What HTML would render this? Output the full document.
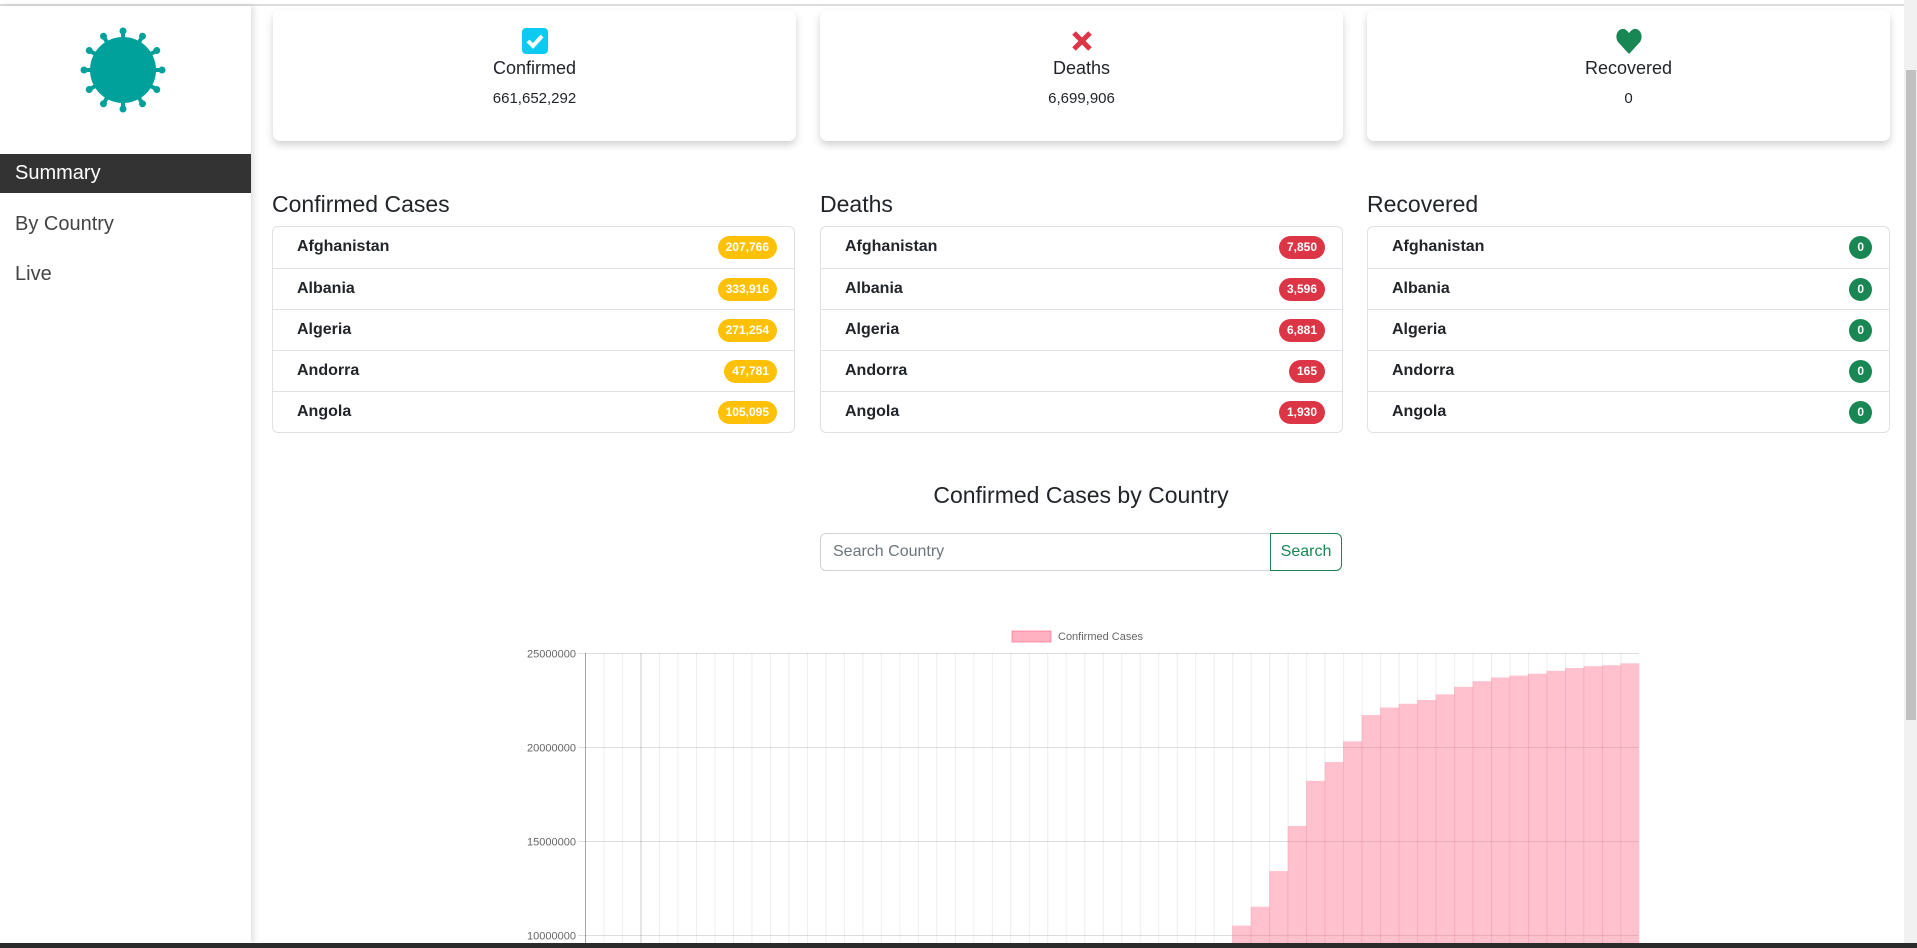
<!DOCTYPE html>
<html><head><meta charset="utf-8">
<style>
*{box-sizing:border-box;margin:0;padding:0}
html{width:1917px;height:948px;overflow:hidden}
body{width:1917px;height:948px;overflow:hidden;background:#fff;font-family:"Liberation Sans",sans-serif;color:#212529;position:relative}
.topline{position:absolute;left:0;top:4px;width:1904px;height:2px;background:#ddd}
.sidebar{position:absolute;left:0;top:6px;width:251px;height:937px;background:#fff;box-shadow:3px 0 6px rgba(0,0,0,.12)}
.nav{position:absolute;left:0;width:251px;height:39px;font-size:20px;padding-left:15px;line-height:39px;color:#444}
.nav.active{background:#333;color:#fff}
.card{position:absolute;top:10px;width:523px;height:131px;background:#fff;border-radius:7px;box-shadow:0 4px 8px rgba(0,0,0,.18);text-align:center}
.card .ic{position:absolute;left:248px;top:17px;width:28px;height:28px}
.card .lbl{position:absolute;left:0;right:0;top:48px;font-size:18px}
.card .num{position:absolute;left:0;right:0;top:80px;font-size:15px}
.sect{position:absolute;top:191px;font-size:23px;font-weight:500}
.list{position:absolute;top:226px;width:523px;border:1px solid #dee2e6;border-radius:6px}
.row{height:41px;border-top:1px solid #dee2e6;position:relative;font-weight:bold;font-size:16px;line-height:40px;padding-left:24px}
.row:first-child{border-top:none}
.badge{position:absolute;right:17px;top:9px;height:23px;line-height:23px;border-radius:12px;padding:0 8px;color:#fff;font-size:12px;font-weight:bold}
.y{background:#ffc107}.r{background:#dc3545}.g{background:#198754}
.title{position:absolute;left:820px;width:522px;top:482px;text-align:center;font-size:23px;font-weight:500}
.search{position:absolute;left:820px;top:533px;width:451px;height:38px;border:1px solid #ced4da;border-radius:6px 0 0 6px;font-size:16px;color:#6c757d;padding:9px 12px}
.btn{position:absolute;left:1270px;top:533px;width:72px;height:38px;border:1px solid #198754;border-radius:0 6px 6px 0;color:#198754;font-size:16px;text-align:center;line-height:36px}
.scroll{position:absolute;left:1904px;top:0;width:13px;height:943px;background:#f1f1f1}
.thumb{position:absolute;left:1906px;top:70px;width:10px;height:650px;background:#c1c1c1}
.taskbar{position:absolute;left:0;top:943px;width:1917px;height:5px;background:#2b2b2b}
</style></head><body>
<div class="topline"></div>
<div class="sidebar">
<svg style="position:absolute;left:80px;top:21px" width="86" height="86" viewBox="-43 -43 86 86">
<g fill="#00a19a"><circle r="33"/>
<g id="sp"><rect x="-2" y="-39" width="4" height="8"/><circle cy="-39" r="3.5"/></g>
<use href="#sp" transform="rotate(30)"/><use href="#sp" transform="rotate(60)"/><use href="#sp" transform="rotate(90)"/><use href="#sp" transform="rotate(120)"/><use href="#sp" transform="rotate(150)"/><use href="#sp" transform="rotate(180)"/><use href="#sp" transform="rotate(210)"/><use href="#sp" transform="rotate(240)"/><use href="#sp" transform="rotate(270)"/><use href="#sp" transform="rotate(300)"/><use href="#sp" transform="rotate(330)"/></g></svg>
<div class="nav active" style="top:148px">Summary</div>
<div class="nav" style="top:199px">By Country</div>
<div class="nav" style="top:249px">Live</div>
</div>

<div class="card" style="left:273px">
<svg class="ic" viewBox="0 0 28 28"><rect x="1" y="1" width="26" height="26" rx="4" fill="#0dcaf0"/><path d="M7 14l5 5 9-10" stroke="#fff" stroke-width="4" fill="none"/></svg>
<div class="lbl">Confirmed</div>
<div class="num">661,652,292</div></div>
<div class="card" style="left:820px">
<svg class="ic" viewBox="0 0 28 28"><path d="M6 6l16 16M22 6L6 22" stroke="#dc3545" stroke-width="5"/></svg>
<div class="lbl">Deaths</div>
<div class="num">6,699,906</div></div>
<div class="card" style="left:1367px">
<svg class="ic" viewBox="0 0 28 28"><path d="M14 27L3 15C-1 9 3 1 9 2c3 1 4 3 5 4 1-1 2-3 5-4 6-1 10 7 6 13z" fill="#198754"/></svg>
<div class="lbl">Recovered</div>
<div class="num">0</div></div>

<div class="sect" style="left:272px">Confirmed Cases</div>
<div class="sect" style="left:820px">Deaths</div>
<div class="sect" style="left:1367px">Recovered</div>

<div class="list" style="left:272px">
<div class="row">Afghanistan<span class="badge y">207,766</span></div>
<div class="row">Albania<span class="badge y">333,916</span></div>
<div class="row">Algeria<span class="badge y">271,254</span></div>
<div class="row">Andorra<span class="badge y">47,781</span></div>
<div class="row">Angola<span class="badge y">105,095</span></div></div>
<div class="list" style="left:820px">
<div class="row">Afghanistan<span class="badge r">7,850</span></div>
<div class="row">Albania<span class="badge r">3,596</span></div>
<div class="row">Algeria<span class="badge r">6,881</span></div>
<div class="row">Andorra<span class="badge r">165</span></div>
<div class="row">Angola<span class="badge r">1,930</span></div></div>
<div class="list" style="left:1367px">
<div class="row">Afghanistan<span class="badge g">0</span></div>
<div class="row">Albania<span class="badge g">0</span></div>
<div class="row">Algeria<span class="badge g">0</span></div>
<div class="row">Andorra<span class="badge g">0</span></div>
<div class="row">Angola<span class="badge g">0</span></div></div>

<div class="title">Confirmed Cases by Country</div>
<div class="search">Search Country</div>
<div class="btn">Search</div>

<svg id="chart" style="position:absolute;left:0;top:600px;overflow:hidden" width="1900" height="343"></svg>

<div class="scroll"></div>
<div class="thumb"></div>
<div class="taskbar"></div>

<script>
const categories = Array.from({length:57}, (_, i) => 'Day ' + (i + 1));
const values = [0,0,0,0,0,10000,50000,100000,200000,300000,500000,700000,1000000,1300000,1600000,2000000,2300000,2600000,3000000,3300000,3600000,4000000,4300000,4600000,5000000,5300000,5600000,6000000,6300000,6700000,7100000,7600000,8100000,8600000,
9200000,10500000,11500000,13400000,15800000,18200000,19200000,20300000,21700000,22100000,22300000,22500000,22800000,23200000,23500000,23700000,23800000,23900000,24050000,24200000,24300000,24350000,24450000];
const yTicks = [25000000,20000000,15000000,10000000];
const legendLabel = 'Confirmed Cases';

const chartSvg = document.getElementById('chart');
const SVGNS = 'http://www.w3.org/2000/svg';
const OFFY = 600;
const plotL = 585, plotR = 1639, plotT = 653 - OFFY;
const yScale = v => plotT + (25000000 - v) / 5000000 * 94;
const stepW = (plotR - plotL) / categories.length;
const xScale = i => plotL + i * stepW;
function mk(tag, attrs){const e=document.createElementNS(SVGNS,tag);for(const k in attrs)e.setAttribute(k,attrs[k]);chartSvg.appendChild(e);return e;}

categories.forEach((c,i)=>{
  const g = mk('line',{x1:xScale(i)+0.5,x2:xScale(i)+0.5,y1:plotT,y2:343,stroke:i===3?'rgba(0,0,0,0.2)':'rgba(0,0,0,0.07)','stroke-width':1});
  
  
});
yTicks.forEach(t=>{
  const y = Math.round(yScale(t))+0.5;
  const l = mk('line',{x1:plotL-7,x2:plotR,y1:y,y2:y,stroke:'rgba(0,0,0,0.13)'});
  
  
  const tx = mk('text',{x:plotL-9,y:y+4,'text-anchor':'end','font-size':11,fill:'#666','font-family':'Liberation Sans, sans-serif'});
  tx.textContent = t;
  
  
});
values.forEach((v,i)=>{
  const y = yScale(v);
  const b = mk('rect',{x:xScale(i),y:y,width:stepW+0.3,height:Math.max(0,343-y),fill:'rgba(255,99,132,0.4)'});
  
  
});
const ax = mk('line',{x1:plotL+0.5,x2:plotL+0.5,y1:plotT,y2:343,stroke:'rgba(0,0,0,0.3)'});


const lb = mk('rect',{x:1012,y:631-OFFY,width:39,height:11,fill:'rgba(255,99,132,0.5)',stroke:'rgba(255,99,132,0.6)'});


const lt = mk('text',{x:1058,y:640-OFFY,'font-size':11,fill:'#666','font-family':'Liberation Sans, sans-serif'});
lt.textContent = legendLabel;


</script>
</body></html>
